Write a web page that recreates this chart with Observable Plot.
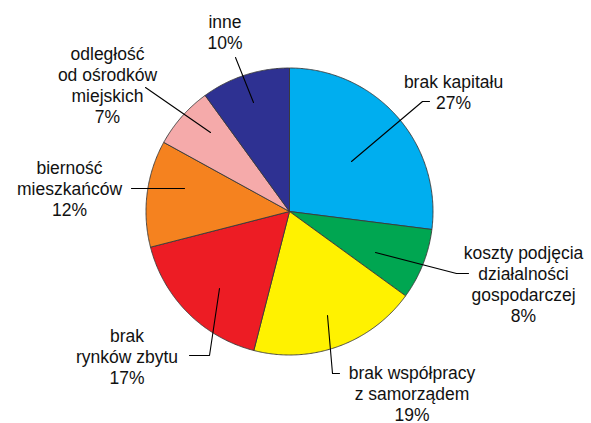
<!DOCTYPE html>
<html>
<head>
<meta charset="utf-8">
<script src="https://cdn.jsdelivr.net/npm/d3@7"></script>
<script src="https://cdn.jsdelivr.net/npm/@observablehq/plot@0.6"></script>
<style>
  html, body { margin: 0; padding: 0; background: #ffffff; }
  #chart svg { display: block; }
</style>
</head>
<body>
<div id="chart"></div>
<script>
// ---- data ----
const categories = [
  "brak kapitału",
  "koszty podjęcia działalności gospodarczej",
  "brak współpracy z samorządem",
  "brak rynków zbytu",
  "bierność mieszkańców",
  "odległość od ośrodków miejskich",
  "inne"
];
const values = [27, 8, 19, 17, 12, 7, 10];
const labelLines = [
  ["brak kapitału"],
  ["koszty podjęcia", "działalności", "gospodarczej"],
  ["brak współpracy", "z samorządem"],
  ["brak", "rynków zbytu"],
  ["bierność", "mieszkańców"],
  ["odległość", "od ośrodków", "miejskich"],
  ["inne"]
];
const colors = ["#00aeef", "#00a651", "#fff200", "#ed1c24", "#f5821f", "#f5aaaa", "#2e3192"];

// ---- layout (pixel frame) ----
const W = 591, H = 423;
const cx = 289, cy = 211, R = 143.5;
// label anchor: centre x, baseline of last line
const labelPos = [
  [453, 108], [523, 321], [411.5, 420], [126.5, 383], [69, 215], [107, 122], [224.5, 48]
];
// leader polylines
const leaders = [
  [[351, 161], [422, 101], [429, 101]],
  [[375, 252], [456, 273], [468, 273]],
  [[327, 315], [332, 373], [339, 373]],
  [[219, 288], [209, 355], [189, 355]],
  [[184, 188], [131, 188]],
  [[210, 132], [145, 87]],
  [[253, 102], [235, 57]]
];

// ---- pie geometry from values ----
const arcs = d3.pie().sort(null).value(d => d)(values);
function pt(a, r) { return {x: cx + r * Math.sin(a), y: cy - r * Math.cos(a)}; }
const sliceMarks = arcs.map((a, i) => {
  const n = Math.max(2, Math.ceil((a.endAngle - a.startAngle) / (Math.PI / 360)));
  const pts = [pt(0, 0)];
  for (let k = 0; k <= n; k++) pts.push(pt(a.startAngle + (a.endAngle - a.startAngle) * k / n, R));
  pts.push(pt(0, 0));
  return Plot.line(pts, {x: "x", y: "y", fill: colors[i], stroke: "#3a3a3a", strokeWidth: 0.9, strokeLinejoin: "round", curve: "linear"});
});

const labels = categories.map((c, i) => ({
  text: labelLines[i].join("\n") + "\n" + values[i] + "%",
  x: labelPos[i][0], y: labelPos[i][1]
}));
const leaderPts = leaders.flatMap((l, i) => l.map(([x, y]) => ({x, y, id: i})));

const chart = Plot.plot({
  width: W, height: H,
  margin: 0,
  x: {domain: [0, W], range: [0, W], axis: null},
  y: {domain: [0, H], range: [0, H], axis: null},
  style: {background: "#ffffff"},
  marks: [
    ...sliceMarks,
    Plot.line(leaderPts, {x: "x", y: "y", z: "id", stroke: "#000", strokeWidth: 1.1, curve: "linear"}),
    Plot.text(labels, {
      x: "x", y: "y", text: "text",
      textAnchor: "middle", lineAnchor: "bottom", lineHeight: 1.2,
      fontSize: 17.5, fontFamily: "'Liberation Sans', Arial, sans-serif",
      fill: "#111"
    })
  ]
});
document.getElementById("chart").appendChild(chart);
</script>
</body>
</html>
